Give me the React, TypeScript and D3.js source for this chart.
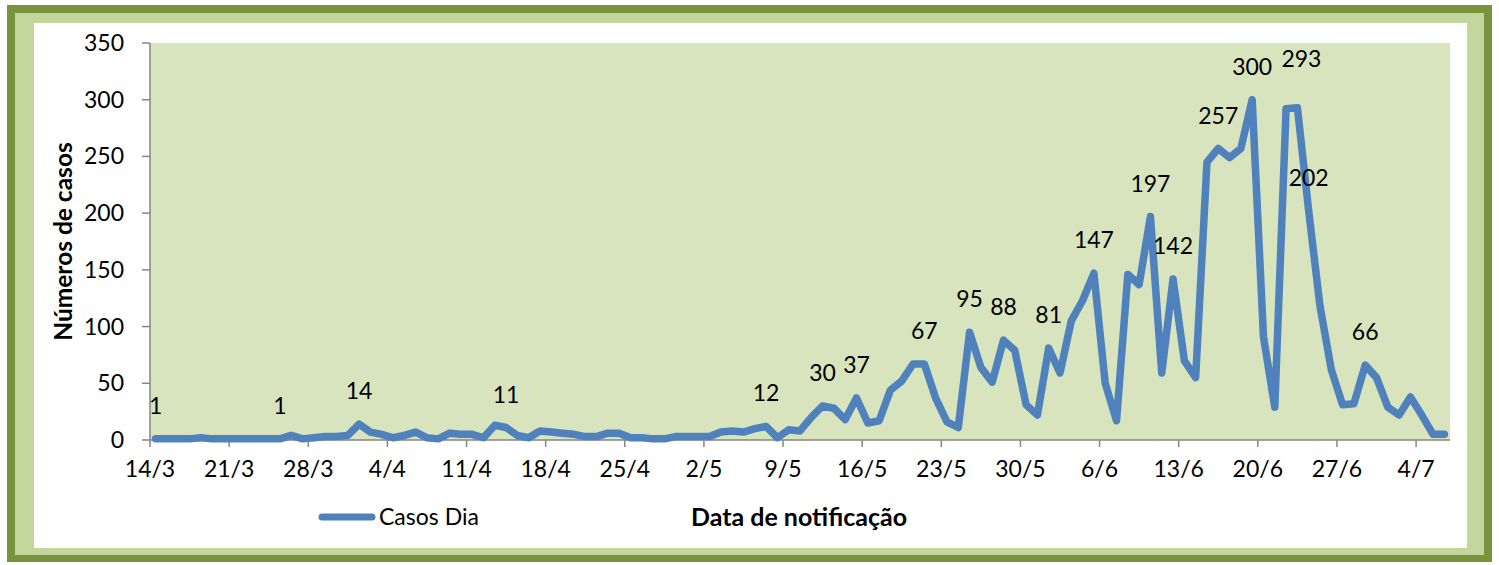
import React from 'react';
import * as d3 from 'd3';

// daily notified cases, one value per day starting at startDay
const startDay = '14/3';
const endDay = '7/7';
const casos = [
  1, 1, 1, 1, 2, 1, 1, 1, 1, 1, 1, 1, 4, 1, 2, 3, 3, 4, 14, 7,
  5, 2, 4, 7, 2, 1, 6, 5, 5, 2, 13, 11, 4, 2, 8, 7, 6, 5, 3, 3,
  6, 6, 2, 2, 1, 1, 3, 3, 3, 3, 7, 8, 7, 10, 12, 2, 9, 8, 20, 30,
  28, 18, 37, 15, 17, 44, 52, 67, 67, 37, 16, 11, 95, 64, 51, 88, 79, 31, 22, 81,
  59, 105, 123, 147, 50, 17, 146, 137, 197, 59, 142, 70, 55, 245, 257, 249, 257, 300, 91, 29,
  292, 293, 202, 118, 62, 31, 32, 66, 55, 29, 22, 38, 22, 5, 5,
];
const xTickLabels = ['14/3', '21/3', '28/3', '4/4', '11/4', '18/4', '25/4', '2/5', '9/5', '16/5', '23/5', '30/5', '6/6', '13/6', '20/6', '27/6', '4/7'];
const yTicks = [0, 50, 100, 150, 200, 250, 300, 350];
const labelDays = ['14/3', '25/3', '1/4', '14/4', '7/5', '12/5', '15/5', '21/5', '25/5', '28/5', '1/6', '5/6', '10/6', '12/6', '16/6', '19/6', '23/6', '24/6', '29/6'];
const seriesName = 'Casos Dia';
const xTitle = 'Data de notificação';
const yTitle = 'Números de casos';

const W = 1499;
const H = 565;
const plot = { left: 150, right: 1450, top: 43, bottom: 440 };
const FONT = 'Lato, "Open Sans", sans-serif';
const LINE = '#4f81bd';
const AXIS = '#868686';

const parse = (s: string) => d3.timeParse('%d/%m/%Y')(s + '/2020') as Date;

export default function App() {
  const start = parse(startDay);
  const x = d3.scaleTime().domain([start, parse(endDay)]).range([plot.left, plot.right]);
  const y = d3.scaleLinear().domain([0, 350]).range([plot.bottom, plot.top]);

  const mid = (i: number) => x(d3.timeHour.offset(d3.timeDay.offset(start, i), 12));
  const line = d3.line<number>().x((_, i) => mid(i)).y((d) => y(d));

  const labels = labelDays.map((day) => {
    const i = d3.timeDay.count(start, parse(day));
    return { i, v: casos[i] };
  });

  return (
    <svg width={W} height={H} style={{ position: 'absolute', left: 0, top: 0, display: 'block' }} fontFamily={FONT}>
      <rect x={0} y={0} width={W} height={H} fill="#fff" />
      {/* frame */}
      <rect x={7} y={5} width={1485} height={557} fill="#77933c" />
      <rect x={15} y={13} width={1469} height={542} fill="#c3d69b" />
      <rect x={34} y={23} width={1433} height={525} fill="#fff" />

      <rect x={plot.left} y={plot.top} width={plot.right - plot.left} height={plot.bottom - plot.top} fill="#d7e4bd" />

      {/* y axis */}
      <line x1={plot.left} x2={plot.left} y1={plot.top} y2={plot.bottom} stroke={AXIS} strokeWidth={1.5} />
      {yTicks.map((t) => (
        <g key={t} transform={`translate(0,${y(t)})`}>
          <line x1={plot.left - 8} x2={plot.left} stroke={AXIS} strokeWidth={1.5} />
          <text x={124} dy="0.35em" textAnchor="end" fontSize={23} fill="#000">{t}</text>
        </g>
      ))}

      {/* x axis */}
      <line x1={plot.left} x2={plot.right} y1={plot.bottom} y2={plot.bottom} stroke={AXIS} strokeWidth={1.5} />
      {xTickLabels.map((t) => {
        const px = x(parse(t));
        return (
          <g key={t} transform={`translate(${px},0)`}>
            <line y1={plot.bottom} y2={plot.bottom + 7} stroke={AXIS} strokeWidth={1.5} />
            <text y={469} dy="0.35em" textAnchor="middle" fontSize={23} fill="#000">{t}</text>
          </g>
        );
      })}

      {/* series */}
      <path d={line(casos) ?? ''} fill="none" stroke={LINE} strokeWidth={7.5} strokeLinejoin="round" strokeLinecap="round" />

      {labels.map(({ i, v }) => {
        const extra = v === 293 ? { dx: 4, dy: -16 } : { dx: 0, dy: 0 };
        return (
          <text key={i} x={mid(i) + extra.dx} y={y(v) - 33 + extra.dy} dy="0.35em" textAnchor="middle" fontSize={23} fill="#000">
            {v}
          </text>
        );
      })}

      {/* titles */}
      <text transform={`translate(63,${(plot.top + plot.bottom) / 2}) rotate(-90)`} dy="0.35em" textAnchor="middle" fontSize={24.5} fontWeight="bold" fill="#000">
        {yTitle}
      </text>
      <text x={799} y={517} dy="0.35em" textAnchor="middle" fontSize={25} fontWeight="bold" fill="#000">
        {xTitle}
      </text>

      {/* legend */}
      <line x1={322} x2={372} y1={517} y2={517} stroke={LINE} strokeWidth={7} strokeLinecap="round" />
      <text x={379} y={517} dy="0.35em" fontSize={23} fill="#000">{seriesName}</text>
    </svg>
  );
}
